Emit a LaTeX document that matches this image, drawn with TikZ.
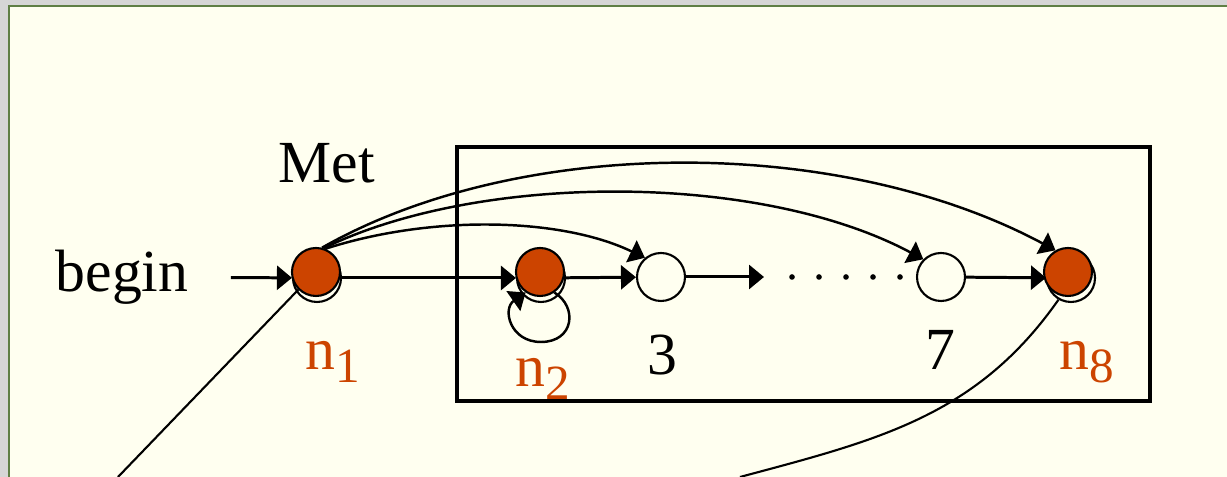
\documentclass[tikz,border=0pt]{standalone}
\usepackage{xcolor}
\definecolor{slidebg}{HTML}{FFFFF0}
\definecolor{slidegray}{HTML}{D6D6D6}
\definecolor{slidegreen}{HTML}{5F7F45}
\definecolor{markorange}{HTML}{CC4400}
\usepackage{fontspec}
\setmainfont{Liberation Serif}
\usepackage{tikz}
\usetikzlibrary{arrows.meta}

\newcommand{\nsub}[1]{n\raisebox{-0.45ex}{\fontsize{14}{14}\selectfont #1}}

\begin{document}
\begin{tikzpicture}[
  >={Triangle[length=0.15cm,width=0.24cm]},
  font=\fontsize{17}{20}\selectfont,
  state/.style={circle, draw, line width=0.6pt, minimum size=0.48cm, inner sep=0pt},
  markdot/.style={circle, draw, fill=markorange, line width=0.6pt, minimum size=0.48cm, inner sep=0pt},
  lbl/.style={anchor=base},
  link/.style={->, line width=0.85pt},
  jump/.style={->, line width=0.7pt}
]
  \useasboundingbox (0,0) rectangle (12.27,4.77);
  \fill[slidegray] (0,0) rectangle (12.27,4.77);
  \filldraw[fill=slidebg, draw=slidegreen, line width=0.5pt] (0.09,-0.2) rectangle (12.47,4.71);

  \draw[line width=1.2pt] (4.57,0.76) rectangle (11.50,3.30);

  \node (begin) at (1.22,2.00) {begin};
  \node[lbl] (met) at (3.27,2.94) {Met};

  \node[state] (s1) at (3.17,1.99) {};
  \node[state] (s2) at (5.41,1.99) {};
  \node[state] (s3) at (6.61,2.00) {};
  \node[state] (s7) at (9.41,2.00) {};
  \node[state] (s8) at (10.71,1.99) {};

  \node[markdot] (n1) at (3.16,2.05) {};
  \node[markdot] (n2) at (5.40,2.05) {};
  \node[markdot] (n8) at (10.68,2.05) {};

  \node[lbl, text=markorange] (l1) at (3.33,1.07) {\nsub{1}};
  \node[lbl, text=markorange] (l2) at (5.43,0.90) {\nsub{2}};
  \node[lbl] (l3) at (6.62,1.02) {3};
  \node[lbl] (l7) at (9.40,1.07) {7};
  \node[lbl, text=markorange] (l8) at (10.87,1.07) {\nsub{8}};

  \coordinate (d0) at (7.64,2.00);
  \coordinate (tailA) at (1.18,0);
  \coordinate (tailB) at (7.40,0);

  \draw[link, shorten <=0.3cm] (begin) -- (s1);
  \draw[link] (s1) -- (s2);
  \draw[link] (s2) -- (s3);
  \draw[link] (s3) -- (d0);
  \draw[link] (s7) -- (s8);
  \foreach \x in {7.92,8.19,8.46,8.73,9.00}
    \fill (\x,2.00) circle (0.8pt);

  \draw[jump] (n2.-55) .. controls (5.78,1.70) and (5.74,1.35) .. (5.41,1.35)
    .. controls (5.10,1.35) and (5.02,1.68) .. (n2.-125);

  \draw[jump] (n1.68) .. controls (4.3,2.62) and (5.6,2.6) .. (s3.130);
  \draw[jump] (n1.72) .. controls (4.8,3.05) and (7.6,3.05) .. (s7.135);
  \draw[jump] (n1.76) .. controls (5.2,3.42) and (8.4,3.42) .. (n8.120);

  \draw[line width=0.6pt] (n1.225) -- (tailA);
  \draw[line width=0.6pt] (s8.240) to[out=235, in=15] (tailB);
\end{tikzpicture}
\end{document}
